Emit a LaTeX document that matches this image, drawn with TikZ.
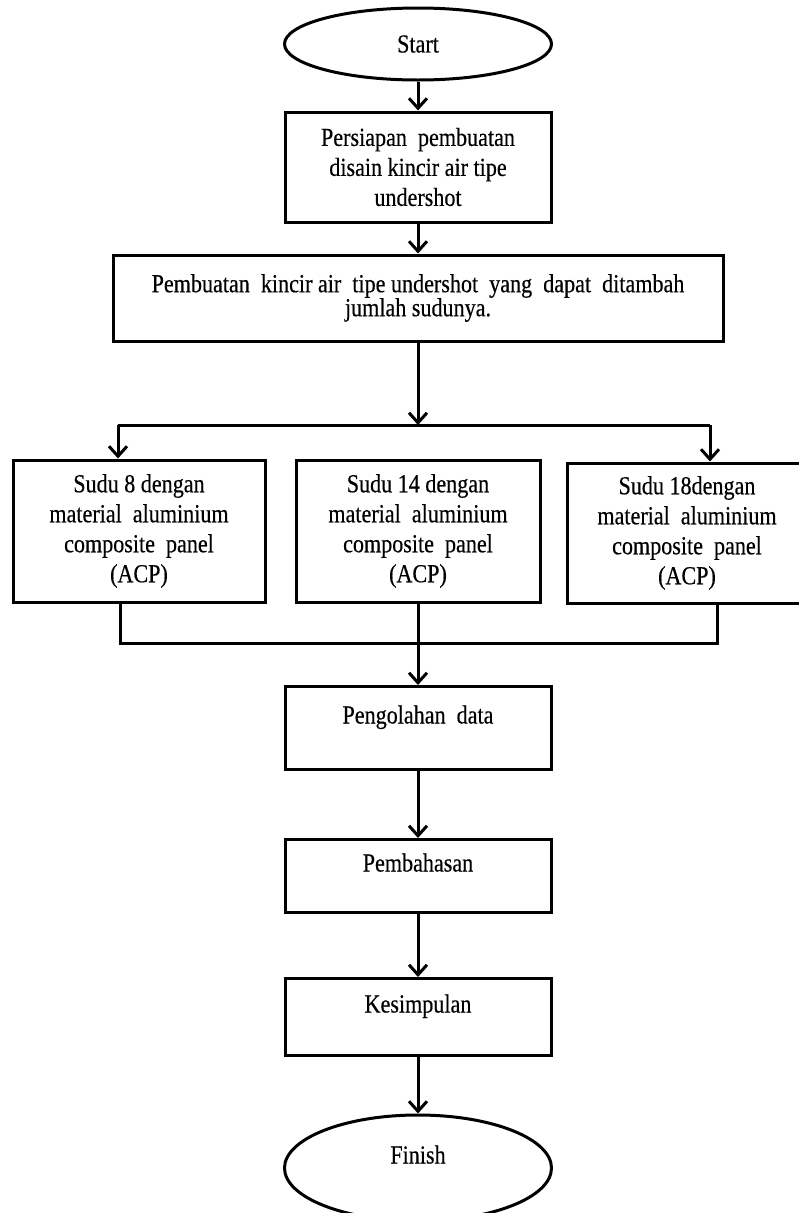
\documentclass[tikz,border=0pt]{standalone}
\usepackage{fontspec}
\setmainfont{Liberation Serif}[FakeStretch=0.85,FakeBold=0.4]
\usetikzlibrary{shapes.geometric,arrows.meta}

\begin{document}
\begin{tikzpicture}
 [x=1pt,y=-1pt,line width=3pt,font=\fontsize{26}{30}\selectfont,
  every node/.style={draw,align=center,inner sep=0pt},
  terminal/.style={ellipse,minimum width=267pt},
  stepbox/.style={rectangle},
  low/.style={text height=18pt,text depth=27pt},
  arr/.style={-{Straight Barb[length=10pt,width=18pt]}}]
 \useasboundingbox (0,0) rectangle (798,1213);
 \node[terminal,minimum height=72pt] (start) at (418,44) {Start};
 \node[stepbox,minimum width=266pt,minimum height=110pt] (persiapan) at (418,167)
  {Persiapan\ \ pembuatan\\disain kincir air tipe\\undershot};
 \node[stepbox,minimum width=610pt,minimum height=86pt] (buat) at (418,298)
  {Pembuatan\ \ kincir air\ \ tipe undershot\ \ yang\ \ dapat\ \ ditambah\\[-6pt]jumlah sudunya.};
 \node[stepbox,minimum width=252pt,minimum height=142pt] (sudu8) at (139,531)
  {Sudu 8 dengan\\material\ \ aluminium\\composite\ \ panel\\(ACP)};
 \node[stepbox,minimum width=244pt,minimum height=142pt] (sudu14) at (418,531)
  {Sudu 14 dengan\\material\ \ aluminium\\composite\ \ panel\\(ACP)};
 \node[stepbox,minimum width=240pt,minimum height=140pt] (sudu18) at (687,533)
  {Sudu 18dengan\\material\ \ aluminium\\composite\ \ panel\\(ACP)};
 \node[stepbox,low,minimum width=266pt,minimum height=83pt] (olah) at (418,728) {Pengolahan\ \ data};
 \node[stepbox,low,minimum width=266pt,minimum height=73pt] (bahas) at (418,876) {Pembahasan};
 \node[stepbox,low,minimum width=266pt,minimum height=77pt] (simpul) at (418,1017) {Kesimpulan};
 \node[terminal,low,minimum height=106pt] (finish) at (418,1168) {Finish};
 % split and join points
 \coordinate (split) at (418,425);
 \coordinate (splitL) at (118,425);
 \coordinate (splitR) at (710,425);
 \coordinate (join) at (418,643);
 \coordinate (joinL) at (120,643);
 \coordinate (joinR) at (717,643);
 \foreach \from/\to in {start/persiapan,persiapan/buat,buat/split,join/olah,olah/bahas,bahas/simpul,simpul/finish}
  \draw[arr] (\from) -- (\to);
 \draw (splitL) -- (splitR);
 \draw[arr] (splitL) -- (splitL |- sudu8.north);
 \draw[arr] (splitR) -- (splitR |- sudu18.north);
 \draw (sudu8.south -| joinL) -- (joinL) -- (joinR) -- (sudu18.south -| joinR);
 \draw (sudu14) -- (join);
\end{tikzpicture}
\end{document}
